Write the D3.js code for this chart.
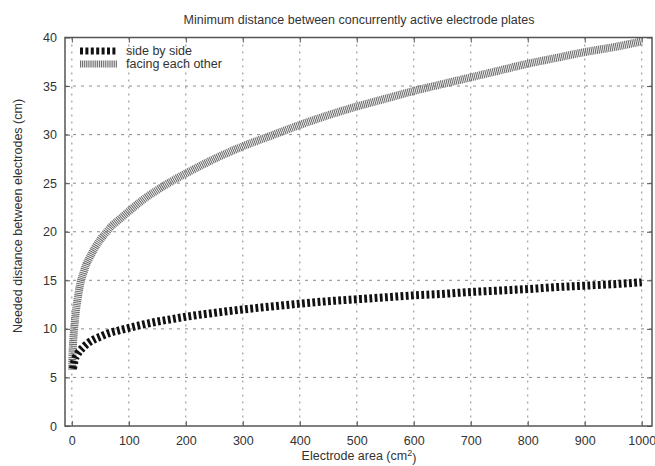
<!DOCTYPE html>
<html>
<head>
<meta charset="utf-8">
<script src="https://cdn.jsdelivr.net/npm/d3@7"></script>
<style>
  body { margin: 0; background: #fff; }
  svg { display: block; font-family: "Liberation Sans", Arial, sans-serif; }
</style>
</head>
<body>
<div id="mainDiv"></div>
<script>
// Values
let chartTitle = "Minimum distance between concurrently active electrode plates";
let seriesNames = ["side by side", "facing each other"];
let xTicks = [0, 100, 200, 300, 400, 500, 600, 700, 800, 900, 1000];
let yTicks = [0, 5, 10, 15, 20, 25, 30, 35, 40];

let sideArea = [2, 5, 10, 20, 30, 40, 50, 60, 70, 80, 90, 100, 125, 150, 175, 200,
  250, 300, 350, 400, 450, 500, 550, 600, 650, 700, 750, 800, 850, 900, 950, 1000];
let sideDistance = [5.9, 6.8, 7.4, 8.1, 8.6, 8.95, 9.2, 9.45, 9.65, 9.8, 9.95, 10.1, 10.45, 10.75, 11.0, 11.25,
  11.65, 12.0, 12.3, 12.6, 12.85, 13.05, 13.25, 13.45, 13.6, 13.8, 13.95, 14.1, 14.3, 14.45, 14.6, 14.8];

let facingArea = [0.5, 1, 2, 3, 5, 7, 10, 15, 20, 25, 30, 40, 50, 60, 70, 80, 90, 100, 125, 150, 175, 200,
  250, 300, 350, 400, 450, 500, 550, 600, 650, 700, 750, 800, 850, 900, 950, 1000];
let facingDistance = [5.8, 7.0, 8.4, 9.3, 10.6, 11.8, 13.0, 14.7, 15.7, 16.6, 17.2, 18.3, 19.2, 19.9, 20.6, 21.1, 21.6, 22.1, 23.3, 24.3, 25.2, 26.0,
  27.5, 28.8, 29.9, 31.0, 32.0, 32.9, 33.7, 34.5, 35.2, 35.9, 36.6, 37.3, 37.9, 38.5, 39.0, 39.6];

let chartSize = { width: 655, height: 466, margin: { top: 38, right: 3, bottom: 40, left: 65 } };
let textColor = "#333";
let gridColor = "#8a8a8a";
let fontSize = 12.5;

let styles = [
  { color: "#111", width: 8, dash: "2.8,2.4" },
  { color: "#6e6e6e", width: 8, dash: "1.1,0.8" }
];

createChart();

function createChart() {
  let x = d3.scaleLinear()
    .domain([-12, 1018])
    .range([chartSize.margin.left, chartSize.width - chartSize.margin.right]);

  let y = d3.scaleLinear()
    .domain([0, 40])
    .range([chartSize.height - chartSize.margin.bottom, chartSize.margin.top - 0.5]);

  let left = x.range()[0], right = x.range()[1];
  let top = y.range()[1], bottom = y.range()[0];

  const svg = d3.select("#mainDiv")
    .append("svg")
    .attr("width", chartSize.width)
    .attr("height", chartSize.height);

  svg.append("defs").append("clipPath")
    .attr("id", "plotClip")
    .append("rect")
    .attr("x", left).attr("y", top)
    .attr("width", right - left).attr("height", bottom - top);

  // grid
  svg.append("g")
    .selectAll("line")
    .data(xTicks)
    .join("line")
    .attr("x1", d => x(d)).attr("x2", d => x(d))
    .attr("y1", top).attr("y2", bottom)
    .attr("stroke", gridColor)
    .attr("stroke-width", 1)
    .attr("stroke-dasharray", "2,5");

  svg.append("g")
    .selectAll("line")
    .data(yTicks.filter(d => d > 0 && d < 40))
    .join("line")
    .attr("x1", left).attr("x2", right)
    .attr("y1", d => y(d)).attr("y2", d => y(d))
    .attr("stroke", gridColor)
    .attr("stroke-width", 1)
    .attr("stroke-dasharray", "3,5");

  // series
  let line = d3.line()
    .x(d => x(d[0]))
    .y(d => y(d[1]))
    .curve(d3.curveMonotoneX);

  let series = [
    d3.zip(sideArea, sideDistance),
    d3.zip(facingArea, facingDistance)
  ];

  let plot = svg.append("g").attr("clip-path", "url(#plotClip)");
  [1, 0].forEach(i => {
    plot.append("path")
      .datum(series[i])
      .attr("d", line)
      .attr("fill", "none")
      .attr("stroke", styles[i].color)
      .attr("stroke-width", styles[i].width)
      .attr("stroke-dasharray", styles[i].dash);
  });

  // axes with inward ticks, mirrored on top/right
  let xAxis = g => g
    .attr("transform", `translate(0,${bottom})`)
    .call(d3.axisBottom(x).tickValues(xTicks).tickFormat(d3.format("d"))
      .tickSizeInner(-5).tickSizeOuter(0).tickPadding(10));

  let yAxis = g => g
    .attr("transform", `translate(${left},0)`)
    .call(d3.axisLeft(y).tickValues(yTicks).tickFormat(d3.format("d"))
      .tickSizeInner(-5).tickSizeOuter(0).tickPadding(8));

  let styleAxis = g => {
    g.select(".domain").remove();
    g.selectAll(".tick line").attr("stroke", "#555");
    g.selectAll(".tick text")
      .attr("fill", textColor)
      .attr("font-size", fontSize)
      .attr("font-family", "Liberation Sans, Arial, sans-serif");
  };

  svg.append("g").call(xAxis).call(styleAxis);
  svg.append("g").call(yAxis).call(styleAxis);

  svg.append("g")
    .attr("transform", `translate(0,${top})`)
    .call(d3.axisTop(x).tickValues(xTicks).tickSizeInner(-5).tickSizeOuter(0).tickFormat(""))
    .call(styleAxis);
  svg.append("g")
    .attr("transform", `translate(${right},0)`)
    .call(d3.axisRight(y).tickValues(yTicks).tickSizeInner(-5).tickSizeOuter(0).tickFormat(""))
    .call(styleAxis);

  svg.append("rect")
    .attr("x", left).attr("y", top)
    .attr("width", right - left).attr("height", bottom - top)
    .attr("fill", "none")
    .attr("stroke", "#555")
    .attr("stroke-width", 1.5);

  // legend
  let legend = svg.append("g");
  seriesNames.forEach((name, i) => {
    let ly = 51 + i * 13;
    legend.append("line")
      .attr("x1", 80).attr("x2", 117)
      .attr("y1", ly).attr("y2", ly)
      .attr("stroke", styles[i].color)
      .attr("stroke-width", 7)
      .attr("stroke-dasharray", i == 0 ? "3,2.4" : "1.1,0.8");
    legend.append("text")
      .attr("x", 126).attr("y", ly)
      .attr("dy", "0.35em")
      .attr("fill", textColor)
      .attr("font-size", fontSize)
      .text(name);
  });

  // titles
  svg.append("text")
    .attr("x", 359).attr("y", 20)
    .attr("dy", "0.35em")
    .attr("text-anchor", "middle")
    .attr("fill", textColor)
    .attr("font-size", fontSize)
    .text(chartTitle);

  let xLabel = svg.append("text")
    .attr("x", 359).attr("y", 456)
    .attr("dy", "0.35em")
    .attr("text-anchor", "middle")
    .attr("fill", textColor)
    .attr("font-size", fontSize);
  xLabel.append("tspan").text("Electrode area (cm");
  xLabel.append("tspan").attr("dy", "-0.45em").attr("font-size", 9).text("2");
  xLabel.append("tspan").attr("dy", "0.45em").text(")");

  svg.append("text")
    .attr("transform", "translate(18,216) rotate(-90)")
    .attr("dy", "0.35em")
    .attr("text-anchor", "middle")
    .attr("fill", textColor)
    .attr("font-size", fontSize)
    .text("Needed distance between electrodes (cm)");
}
</script>
</body>
</html>
